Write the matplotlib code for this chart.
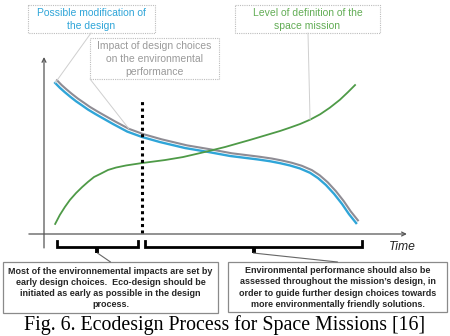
import matplotlib
matplotlib.use("Agg")
import matplotlib.pyplot as plt
import matplotlib.transforms as mtransforms
from matplotlib.patches import Rectangle

# time (0 = start of the project) and level (0 = low, 100 = high)
blue_t = [3.1, 4.4, 5.8, 7.2, 8.9, 10.6, 12.2, 14.2, 16.1, 19.2, 23.1, 27.2,
          32.2, 39.2, 45.6, 51.7, 59.4, 62.8, 65.6, 68.3, 71.1, 73.9, 76.1,
          78.3, 80.6, 82.8, 84.7, 86.7]
blue_v = [100.7, 97.5, 94.5, 91.7, 88.5, 85.7, 83.0, 80.1, 77.5, 73.3, 68.3,
          64.7, 61.3, 57.3, 54.7, 52.0, 49.7, 48.5, 47.2, 45.7, 43.7, 40.8,
          37.3, 32.7, 26.7, 20.0, 13.3, 7.3]

gray_t = [3.6, 4.9, 6.3, 7.7, 9.4, 11.1, 12.7, 14.7, 16.6, 19.7, 23.6, 27.7,
          32.7, 39.7, 46.1, 52.2, 59.9, 63.3, 66.1, 68.8, 71.6, 74.4, 76.6,
          78.8, 81.1, 83.3, 85.2, 87.2]
gray_v = [102.5, 99.3, 96.3, 93.5, 90.3, 87.5, 84.8, 81.9, 79.3, 75.1, 70.1,
          66.5, 63.1, 59.1, 56.5, 53.8, 51.5, 50.3, 49.0, 47.5, 45.5, 42.6,
          39.1, 34.5, 28.5, 21.8, 15.1, 9.1]

green_t = [3.1, 4.4, 5.8, 7.2, 8.9, 10.6, 12.2, 13.9, 15.6, 17.8, 20.0, 22.8,
           27.2, 33.6, 38.6, 44.7, 50.3, 57.2, 62.8, 65.6, 68.3, 71.1, 73.9,
           76.7, 79.4, 82.2, 84.4, 86.4]
green_v = [6.7, 12.7, 18.0, 22.7, 27.3, 31.3, 34.7, 38.0, 40.0, 42.7, 44.3,
           45.7, 47.3, 49.3, 51.3, 54.7, 58.0, 62.7, 66.7, 68.7, 70.9, 73.3,
           76.2, 79.8, 84.2, 89.5, 94.5, 99.3]

design_split = 27.2
phase_spans = [(3.6, 26.1), (28.1, 88.3)]

top_labels = ["Possible modification of\nthe design",
              "Impact of design choices\non the environmental\nperformance",
              "Level of definition of the\nspace mission"]
notes = ["Most of the environnemental impacts are set by\n"
         "early design choices.  Eco-design should be\n"
         "initiated as early as possible in the design\n"
         "process.",
         "Environmental performance should also be\n"
         "assessed throughout the mission\u2019s design, in\n"
         "order to guide further design choices towards\n"
         "more environmentally friendly solutions."]
caption = "Fig. 6. Ecodesign Process for Space Missions [16]"

BLUE = "#2fa5d8"
GRAY = "#8e8c94"
GREEN = "#4e9a47"

W, H = 450, 336
fig = plt.figure(figsize=(W / 100, H / 100), dpi=100)
ax = fig.add_axes([0, 0, 1, 1])
# 3.6 px per time unit, 1.5 px per level unit, origin at pixel (44, 234)
ax.set_xlim(-44 / 3.6, (W - 44) / 3.6)
ax.set_ylim((234 - H) / 1.5, 234 / 1.5)
ax.axis("off")

# pixel coords, origin top-left
pix = mtransforms.Affine2D().scale(1 / W, -1 / H).translate(0, 1) + fig.transFigure

# axes with arrows
ax.annotate("", xy=(0, 118), xytext=(0, -9.3),
            arrowprops=dict(arrowstyle="->", color="#555555", lw=0.9,
                            shrinkA=0, shrinkB=0, mutation_scale=7))
ax.annotate("", xy=(100.8, 0), xytext=(-4.2, 0),
            arrowprops=dict(arrowstyle="->", color="#555555", lw=0.9,
                            shrinkA=0, shrinkB=0, mutation_scale=7))
ax.text(99.5, -9, "Time", style="italic", fontsize=8.7, color="#222222",
        family="Liberation Sans", ha="center", va="center")

# curves
ax.plot(gray_t, gray_v, color=GRAY, lw=1.5, solid_joinstyle="round")
ax.plot(blue_t, blue_v, color=BLUE, lw=1.7, solid_joinstyle="round")
ax.plot(green_t, green_v, color=GREEN, lw=1.3, solid_joinstyle="round")

# decision point
ax.plot([design_split, design_split], [0.7, 89.3], color="black", lw=2.2,
        linestyle=(0, (1, 1.1)), dash_capstyle="butt")

# brackets under the time axis
for (a, b) in phase_spans:
    ax.plot([a, a, b, b], [-4.7, -8.7, -8.7, -4.7], color="black", lw=2.0,
            solid_joinstyle="miter")
    m = (a + b) / 2
    ax.plot([m, m], [-8.7, -12.7], color="black", lw=2.8, solid_capstyle="butt")

# top labels (pixel boxes)
top_boxes = [(28, 5, 127, 28, BLUE), (90, 38, 129, 41, "#9a9a9a"),
             (235, 5, 145, 28, "#62ad55")]
for (x, y, w, h, c), txt in zip(top_boxes, top_labels):
    ax.add_patch(Rectangle((x, y), w, h, transform=pix, fill=False,
                           edgecolor="#bdbdbd", lw=0.8, linestyle=(0, (1, 1))))
    ax.text(x + w / 2, y + h / 2 + 0.5, txt, transform=pix, ha="center",
            va="center", fontsize=7.5, color=c, family="Liberation Sans",
            linespacing=1.42)

# leader lines from labels to curves
lead = dict(arrowstyle="-", color="#cfcfcf", lw=0.7, shrinkA=0, shrinkB=0)
ax.annotate("", xy=(blue_t[0], blue_v[0]), xytext=(91, H - 33),
            textcoords="figure pixels", arrowprops=lead)
ax.annotate("", xy=(gray_t[10], gray_v[10]), xytext=(90, H - 79),
            textcoords="figure pixels", arrowprops=lead)
ax.annotate("", xy=(green_t[22], green_v[22]), xytext=(308, H - 33),
            textcoords="figure pixels", arrowprops=lead)

# bottom notes
note_boxes = [(3, 262, 215, 51), (228, 262, 219, 50)]
for (x, y, w, h), txt, (a, b) in zip(note_boxes, notes, phase_spans):
    ax.add_patch(Rectangle((x, y), w, h, transform=pix, fill=False,
                           edgecolor="#8a8a8a", lw=0.9))
    ax.text(x + w / 2, y + h / 2 + 0.5, txt, transform=pix, ha="center",
            va="center", fontsize=6.5, fontweight="bold", color="#262626",
            family="Liberation Sans", linespacing=1.3)
    ax.annotate("", xy=(x + w / 2, H - y), xycoords="figure pixels",
                xytext=((a + b) / 2, -12.7), textcoords="data",
                arrowprops=dict(arrowstyle="-", color="#666666", lw=0.8,
                                shrinkA=0, shrinkB=0))

ax.text(225, 325, caption, transform=pix, ha="center", va="center",
        fontsize=14.3, family="Liberation Serif", color="black")

plt.savefig("out.png", dpi=100)
